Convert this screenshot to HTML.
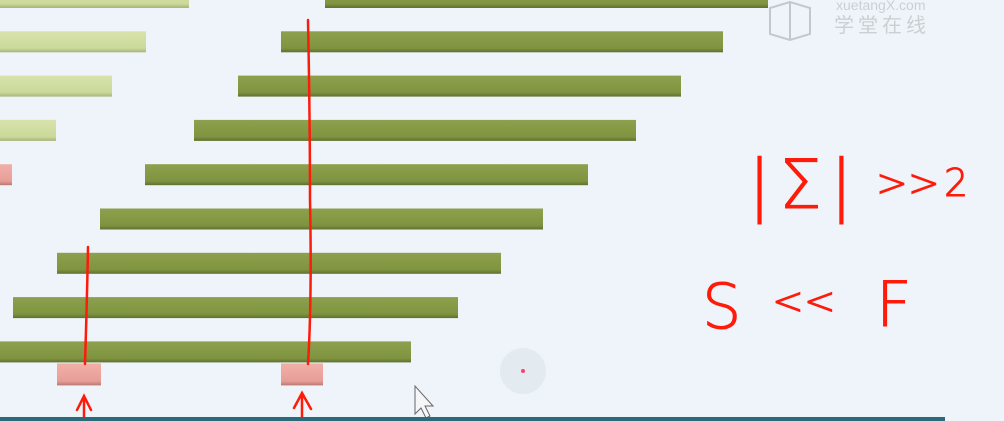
<!DOCTYPE html>
<html><head><meta charset="utf-8">
<style>
html,body{margin:0;padding:0;}
body{width:1004px;height:421px;overflow:hidden;background:#eef4f9;font-family:"Liberation Sans","Noto Sans CJK SC",sans-serif;}
svg{display:block;}
</style></head>
<body>
<svg id="chart" width="1004" height="421" viewBox="0 0 1004 421" xmlns="http://www.w3.org/2000/svg">
<defs>
<linearGradient id="g1" x1="0" y1="0" x2="0" y2="1"><stop offset="0" stop-color="#8ea04d"/><stop offset="0.8" stop-color="#7f9440"/><stop offset="1" stop-color="#5f7030"/></linearGradient>
<linearGradient id="g2" x1="0" y1="0" x2="0" y2="1"><stop offset="0" stop-color="#d8e3ac"/><stop offset="0.8" stop-color="#cbd99a"/><stop offset="1" stop-color="#a7b47a"/></linearGradient>
<linearGradient id="g3" x1="0" y1="0" x2="0" y2="1"><stop offset="0" stop-color="#f0b0a8"/><stop offset="0.8" stop-color="#e89e98"/><stop offset="1" stop-color="#b87872"/></linearGradient>
</defs>
<rect x="0" y="0" width="1004" height="421" fill="#eef4f9"/>
<g id="bars"></g>
<g fill="none" stroke="#ff1a0a" stroke-width="2.5" stroke-linecap="round">
<path d="M308 20 Q310 120 310 200 Q312 300 308 364"/>
<path d="M88 247 Q87 300 85 364"/>
<path d="M84 421 L84 398 M77 410 L84 396 L91 410"/>
<path d="M302 421 L302 396 M294 408 L302 393 L311 409"/>
</g>
<g fill="#ff1a0a" stroke="#ff1a0a" stroke-width="1" font-family="'DejaVu Sans',sans-serif" font-weight="200">
<text x="748" y="208" font-size="68" letter-spacing="8">|Σ|</text>
<text x="876" y="196" font-size="38">&gt;&gt;</text>
<text x="944" y="196" font-size="38">2</text>
</g>
<g fill="#ff1a0a" stroke="#ff1a0a" stroke-width="1" font-family="'DejaVu Sans',sans-serif" font-weight="200">
<text x="702" y="328" font-size="62">S</text>
<text x="772" y="314" font-size="38">&lt;&lt;</text>
<text x="876" y="326" font-size="62">F</text>
</g>
<g opacity="0.4" fill="none" stroke="#888" stroke-width="2">
<path d="M770 8 L790 2 L810 8 L810 34 L790 40 L770 34 Z M790 2 L790 40"/>
<text x="836" y="10" font-size="14" fill="#999" stroke="none">xuetangX.com</text>
<text x="834" y="32" font-size="20" fill="#999" stroke="none" letter-spacing="4">学堂在线</text>
</g>
<circle cx="523" cy="371" r="23" fill="#e3ebf0"/>
<circle cx="523" cy="371" r="2" fill="#ff4070"/>
<path d="M415 386 L415 414 L421 408 L426 418 L430 416 L425 406 L433 406 Z" fill="#f4f6f8" stroke="#666" stroke-width="1"/>
<rect x="0" y="417" width="945" height="4" fill="#2a6a7a"/>
</svg>
<script>
const rows = [0,1,2,3,4,5,6,7,8];
const starts = [325,281,238,194,145,100,57,13,0];
const ends = [768,723,681,636,588,543,501,458,411];
const lightEnds = [189,146,112,56];
const pinkStubEnd = [12];
const markerX = [57,281];
const markerW = [44,42];

const rowTop0 = -13, rowStep = 44.3, barH = 21;
function yOf(i){return rowTop0 + i*rowStep;}
const g = document.getElementById('bars');
const NS = 'http://www.w3.org/2000/svg';
function rect(x,y,w,h,fill){const r=document.createElementNS(NS,'rect');r.setAttribute('x',x);r.setAttribute('y',y);r.setAttribute('width',w);r.setAttribute('height',h);r.setAttribute('fill',fill);g.appendChild(r);return r;}
rows.forEach(i=>{
  const r = rect(starts[i], yOf(i), ends[i]-starts[i], barH, 'url(#g1)');
  
  
});
lightEnds.forEach((e,i)=>{
  const r = rect(0, yOf(i), e, barH, 'url(#g2)');
  
  
});
pinkStubEnd.forEach((e,k)=>{
  const r = rect(0, yOf(4), e, barH, 'url(#g3)');
  
  
});
markerX.forEach((x,k)=>{
  const r = rect(x, yOf(8)+barH+1, markerW[k], 22, 'url(#g3)');
  
  
});
</script>
</body></html>
